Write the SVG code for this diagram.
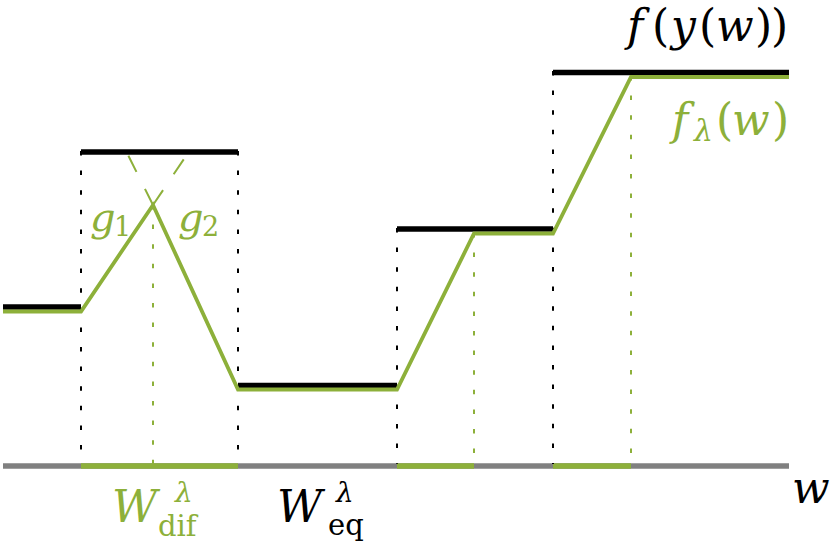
<svg xmlns="http://www.w3.org/2000/svg" width="832" height="546" viewBox="0 0 832 546">
<style>
.blk{stroke:#000;stroke-width:5.5;fill:none}
.grn{stroke:#8DB03A;stroke-width:3.8;fill:none;stroke-linejoin:miter}
.axis{stroke:#808080;stroke-width:5.5}
.axg{stroke:#8DB03A;stroke-width:5.5}
.dk{stroke:#000;stroke-width:2;stroke-dasharray:4.5 15.1}
.dg{stroke:#8DB03A;stroke-width:2;stroke-dasharray:4.5 15.1}
.ext{stroke:#8DB03A;stroke-width:2;stroke-dasharray:18 19;fill:none}
.t{font-family:"DejaVu Serif","Liberation Serif",serif;font-style:italic}
.u{font-style:normal}
.g{fill:#8DB03A}
.k{fill:#000}
</style>
<g id="axis">
<line class="axis" x1="3" y1="466" x2="789" y2="466"/>
<line class="axg" x1="81" y1="466" x2="238" y2="466"/>
<line class="axg" x1="397" y1="466" x2="474" y2="466"/>
<line class="axg" x1="553" y1="466" x2="631" y2="466"/>
</g>
<g id="guides">
<line class="dk" x1="81" y1="151" x2="81" y2="464"/>
<line class="dk" x1="238" y1="151" x2="238" y2="464"/>
<line class="dk" x1="397" y1="228" x2="397" y2="464"/>
<line class="dk" x1="553" y1="71" x2="553" y2="464"/>
<line class="dg" x1="153" y1="205" x2="153" y2="464"/>
<line class="dg" x1="474" y1="233" x2="474" y2="464"/>
<line class="dg" x1="631" y1="76" x2="631" y2="464"/>
<line class="ext" x1="153" y1="205" x2="127" y2="153"/>
<line class="ext" x1="153" y1="205" x2="188" y2="153"/>
</g>
<g id="f-steps">
<line class="blk" x1="3" y1="307" x2="81" y2="307"/>
<line class="blk" x1="81" y1="152" x2="238" y2="152"/>
<line class="blk" x1="238" y1="385.5" x2="397" y2="385.5"/>
<line class="blk" x1="397" y1="229" x2="553" y2="229"/>
<line class="blk" x1="553" y1="72.5" x2="789" y2="72.5"/>
</g>
<g id="f-lambda">
<polyline class="grn" points="3,311.5 81,311.5 153,205 238,389.5 397,389.5 474,233.5 553,233.5 631,77 789,77"/>
</g>
<g id="label-fy">
<text class="t k" font-size="44" y="41"><tspan x="627">f</tspan><tspan class="u" x="652">(</tspan><tspan x="671">y</tspan><tspan class="u" x="699">(</tspan><tspan x="716">w</tspan><tspan class="u" x="755">)</tspan><tspan class="u" x="771">)</tspan></text>
</g>
<g id="label-flambda">
<text class="t g" font-size="44" x="672" y="135">f</text>
<text class="t g" font-size="30" x="694" y="141">λ</text>
<text class="t g" font-size="44" y="135"><tspan class="u" x="716">(</tspan><tspan x="732">w</tspan><tspan class="u" x="772">)</tspan></text>
</g>
<g id="label-g1">
<text class="t g" font-size="40" x="90" y="231">g</text>
<text class="t g u" font-size="27" x="114" y="236">1</text>
</g>
<g id="label-g2">
<text class="t g" font-size="40" x="178" y="231">g</text>
<text class="t g u" font-size="27" x="202" y="236">2</text>
</g>
<g id="label-Wdif">
<text class="t g" font-size="44" x="112" y="522">W</text>
<text class="t g" font-size="28" x="175" y="502">λ</text>
<text class="t g u" font-size="29" x="158" y="536">dif</text>
</g>
<g id="label-Weq">
<text class="t k" font-size="44" x="277" y="522">W</text>
<text class="t k" font-size="28" x="336" y="502">λ</text>
<text class="t k u" font-size="29" x="328" y="535">eq</text>
</g>
<g id="label-w">
<text class="t k" font-size="44" x="792" y="503">w</text>
</g>
</svg>
